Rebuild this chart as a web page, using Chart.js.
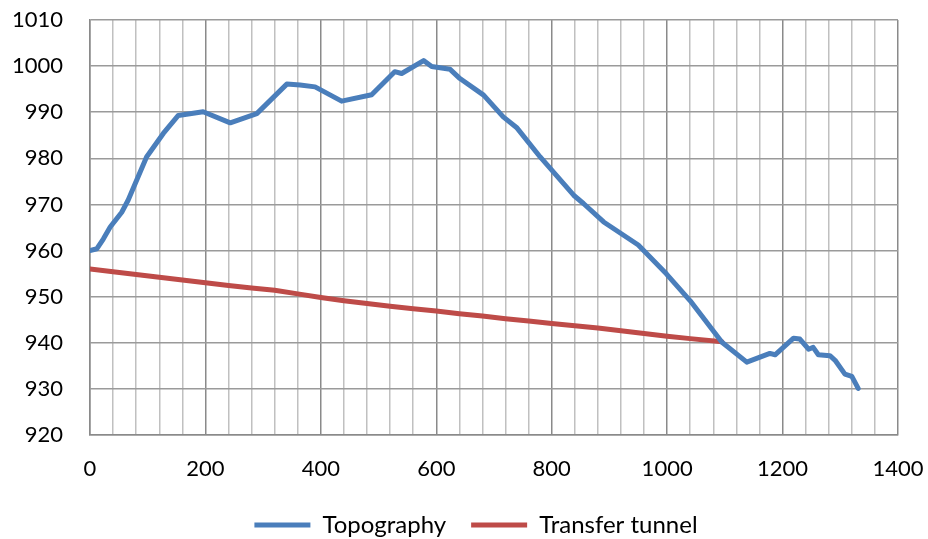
<!DOCTYPE html>
<html>
<head>
<meta charset="utf-8">
<script src="https://cdn.jsdelivr.net/npm/chart.js@4.4.1/dist/chart.umd.min.js"></script>
<style>
html,body{margin:0;padding:0;background:#fff;}
#wrap{width:928px;height:539px;}
</style>
</head>
<body>
<div id="wrap"><canvas id="c" width="928" height="539"></canvas></div>
<script>
const seriesNames = ["Topography", "Transfer tunnel"];
const topoX = [0, 12, 23, 35, 55, 66, 98, 127, 153, 196, 243, 289, 341, 364, 390, 436, 488, 528, 540, 578, 592, 624, 641, 682, 716, 739, 780, 838, 855, 890, 950, 999, 1040, 1095, 1138, 1178, 1187, 1219, 1230, 1245, 1253, 1262, 1282, 1291, 1308, 1320, 1331];
const topoY = [960, 960.4, 962.5, 965.1, 968.3, 970.9, 980.3, 985.4, 989.3, 990.1, 987.7, 989.7, 996.1, 995.9, 995.5, 992.4, 993.8, 998.8, 998.4, 1001.2, 999.9, 999.3, 997.3, 993.7, 989, 986.7, 980.3, 972, 970.2, 966.2, 961.2, 954.9, 949.1, 940.1, 935.8, 937.7, 937.4, 941, 940.8, 938.6, 939, 937.4, 937.2, 936.2, 933.2, 932.7, 930.1];
const tunnelX = [0, 40, 80, 120, 160, 200, 240, 280, 320, 360, 400, 440, 480, 520, 560, 600, 640, 680, 720, 760, 800, 840, 880, 920, 960, 1000, 1040, 1095];
const tunnelY = [956, 955.4, 954.8, 954.2, 953.6, 953, 952.4, 951.9, 951.4, 950.6, 949.8, 949.1, 948.5, 947.9, 947.4, 946.9, 946.3, 945.8, 945.2, 944.7, 944.2, 943.7, 943.2, 942.6, 942.0, 941.4, 940.9, 940.2];
const xTickStep = 40, xLabelStep = 200;
const yMin = 920, yMax = 1010, yStep = 10;

const topoData = topoX.map((x, i) => ({x: x, y: topoY[i]}));
const tunnelData = tunnelX.map((x, i) => ({x: x, y: tunnelY[i]}));

const FONT = "Lato, 'Open Sans', sans-serif";

const legendShift = {
  id: 'legendShift',
  afterLayout(chart) {
    const lg = chart.legend;
    if (lg) { lg.top += 8; lg.bottom += 8; lg.left += 27; lg.right += 27; }
  }
};

new Chart(document.getElementById('c'), {
  type: 'scatter',
  data: {
    datasets: [
      {label: seriesNames[0], data: topoData, showLine: true, borderColor: '#4a7ebb', backgroundColor: '#4a7ebb', borderWidth: 5, pointRadius: 0, tension: 0, borderCapStyle: 'round', borderJoinStyle: 'round'},
      {label: seriesNames[1], data: tunnelData, showLine: true, borderColor: '#be4b48', backgroundColor: '#be4b48', borderWidth: 5, pointRadius: 0, tension: 0, borderCapStyle: 'round', borderJoinStyle: 'round'}
    ]
  },
  options: {
    responsive: false,
    animation: false,
    devicePixelRatio: 1,
    layout: {padding: {left: 0, right: 30, top: 20, bottom: 0}},
    plugins: {
      tooltip: {enabled: false},
      legend: {
        position: 'bottom',
        labels: {
          font: {family: FONT, size: 24, lineHeight: 0.71},
          color: '#000',
          boxWidth: 56,
          boxHeight: 5,
          padding: 25,
          generateLabels(chart) {
            return chart.data.datasets.map((ds, i) => ({
              text: ds.label, fillStyle: ds.borderColor, strokeStyle: ds.borderColor, lineWidth: 0, hidden: false, datasetIndex: i, fontColor: '#000'
            }));
          }
        }
      }
    },
    scales: {
      x: {
        type: 'linear',
        min: 0, max: 1400,
        afterFit(s) { s.height = 45; },
        ticks: {
          stepSize: xTickStep,
          autoSkip: false,
          maxRotation: 0,
          padding: 0,
          color: '#000',
          font: {family: FONT, size: 22},
          callback: v => (v % xLabelStep === 0 ? String(v) : '')
        },
        grid: {
          drawTicks: true,
          tickLength: 21,
          tickColor: 'rgba(0,0,0,0)',
          color: ctx => (ctx.tick && ctx.tick.value % xLabelStep === 0 ? '#8a8a8a' : '#c0c0c0'),
          lineWidth: 1.5
        },
        border: {display: true, color: '#8a8a8a', width: 1.5}
      },
      y: {
        min: yMin, max: yMax,
        afterFit(s) { s.width = 90; },
        ticks: {
          stepSize: yStep,
          padding: 0,
          color: '#000',
          font: {family: FONT, size: 22},
          callback: v => String(v)
        },
        grid: {drawTicks: true, tickLength: 27, tickColor: 'rgba(0,0,0,0)', color: '#9a9a9a', lineWidth: 1.5},
        border: {display: true, color: '#8a8a8a', width: 1.5}
      }
    }
  },
  plugins: [legendShift]
});
</script>
</body>
</html>
